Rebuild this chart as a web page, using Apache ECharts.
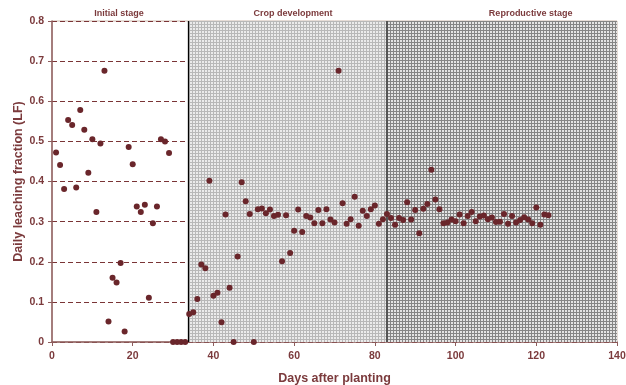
<!DOCTYPE html>
<html><head><meta charset="utf-8">
<script src="https://cdn.jsdelivr.net/npm/echarts@6/dist/echarts.min.js"></script>
<style>html,body{margin:0;padding:0;background:#fff}#c{width:626px;height:385px}</style>
</head><body><div id="c"></div>
<script>
var days = [1,2,3,4,5,6,7,8,9,10,11,12,13,14,15,16,17,18,19,20,21,22,23,24,25,26,27,28,29,30,
31,32,33,34,35,36,37,38,39,40,41,42,43,44,45,46,47,48,49,50,51,52,53,54,55,56,57,58,59,60,
61,62,63,64,65,66,67,68,69,70,71,72,73,74,75,76,77,78,79,80,81,82,83,84,85,86,87,88,89,90,
91,92,93,94,95,96,97,98,99,100,101,102,103,104,105,106,107,108,109,110,111,112,113,114,115,116,117,118,119,120,121,122,123];
var lf = [0.472,0.441,0.381,0.553,0.541,0.385,0.578,0.529,0.422,0.505,0.324,0.495,0.676,0.051,0.160,0.148,0.197,0.026,0.486,0.443,
0.338,0.324,0.342,0.110,0.296,0.338,0.505,0.500,0.471,0,0,0,0,0.070,0.074,0.107,0.193,0.184,0.402,0.115,
0.123,0.049,0.318,0.135,0,0.213,0.398,0.351,0.319,0,0.331,0.333,0.321,0.330,0.314,0.317,0.201,0.316,0.222,0.277,
0.330,0.274,0.314,0.310,0.296,0.329,0.296,0.331,0.305,0.298,0.676,0.346,0.295,0.306,0.362,0.290,0.327,0.314,0.331,0.340,
0.295,0.306,0.319,0.309,0.292,0.309,0.304,0.348,0.305,0.329,0.271,0.332,0.344,0.429,0.355,0.331,0.296,0.298,0.305,0.301,
0.318,0.296,0.314,0.324,0.301,0.313,0.315,0.306,0.310,0.299,0.300,0.319,0.295,0.314,0.298,0.304,0.311,0.305,0.296,0.335,
0.292,0.318,0.316];
var stageNames = ['Initial stage','Crop development','Reproductive stage'];
var stageBounds = [0, 33.7, 82.9, 140];
var stageLabelX = [16.6, 59.7, 118.6];
var xTicks = [0,20,40,60,80,100,120,140];
var yTicks = [0,0.1,0.2,0.3,0.4,0.5,0.6,0.7,0.8];

function makePattern(bg, line){
  var cv = document.createElement('canvas'); cv.width = 3; cv.height = 3;
  var g = cv.getContext('2d');
  g.fillStyle = bg; g.fillRect(0,0,3,3);
  g.fillStyle = line; g.fillRect(0,0,3,1); g.fillRect(0,0,1,3);
  return {image: cv, repeat: 'repeat'};
}
var patCrop = makePattern('#ebebeb', '#b8b8b8');
var patRep = makePattern('#e4e4e4', '#858585');

var txt = '#7b3a3c';
var axisCol = '#8e5e5e';
var chart = echarts.init(document.getElementById('c'), null, {renderer:'canvas'});
var option = {
  animation: false,
  backgroundColor: '#fff',
  grid: {left: 52, right: 9, top: 21, bottom: 43, outerBoundsMode: 'none', containLabel: false,
    show: true, borderColor: '#cdb9ad', borderWidth: 1},
  xAxis: {
    type: 'value', min: 0, max: 140, interval: 20,
    name: 'Days after planting', nameLocation: 'middle', nameGap: 30, nameMoveOverlap: false,
    nameTextStyle: {color: txt, fontWeight: 'bold', fontSize: 12.5, fontFamily: 'Liberation Sans'},
    axisLine: {show: true, lineStyle: {color: axisCol, width: 1.5}},
    axisTick: {show: true, length: 4, lineStyle: {color: axisCol}},
    axisLabel: {color: txt, fontWeight: 'bold', fontSize: 10.5, fontFamily: 'Liberation Sans', margin: 9,
      formatter: function(v){ return xTicks.indexOf(v) >= 0 ? String(v) : ''; }},
    splitLine: {show: false}
  },
  yAxis: {
    type: 'value', min: 0, max: 0.8, interval: 0.1,
    name: 'Daily leaching fraction (LF)', nameLocation: 'middle', nameGap: 27, nameMoveOverlap: false,
    nameTextStyle: {color: txt, fontWeight: 'bold', fontSize: 12.5, fontFamily: 'Liberation Sans'},
    axisLine: {show: true, lineStyle: {color: axisCol, width: 1.5}},
    axisTick: {show: true, length: 4, lineStyle: {color: axisCol}},
    axisLabel: {color: txt, fontWeight: 'bold', fontSize: 10.5, fontFamily: 'Liberation Sans', margin: 8,
      formatter: function(v){ var r = Math.round(v*10)/10; return r === 0 ? '0' : r.toFixed(1); }},
    splitLine: {show: true, lineStyle: {color: '#7a3436', type: [5,3], width: 1}}
  },
  series: [
    {
      type: 'scatter', z: -1, silent: true, data: [],
      markArea: {
        silent: true,
        data: [
          [{xAxis: stageBounds[1], itemStyle: {color: patCrop}}, {xAxis: stageBounds[2]}],
          [{xAxis: stageBounds[2], itemStyle: {color: patRep}}, {xAxis: stageBounds[3]}]
        ]
      },
      markLine: {
        silent: true, symbol: 'none', label: {show: false},
        data: [
          {xAxis: stageBounds[1], lineStyle: {color: '#000', width: 1.3, type: 'solid'}},
          {xAxis: stageBounds[2], lineStyle: {color: '#555', width: 2, type: 'solid'}}
        ]
      }
    },
    {
      type: 'scatter', z: 5, symbol: 'circle', symbolSize: 6,
      itemStyle: {color: '#6a262b', opacity: 1},
      data: days.map(function(d, i){ return [d, lf[i]]; })
    }
  ]
};
chart.setOption(option);
var gr = stageNames.map(function(n, i){
  var p = chart.convertToPixel({gridIndex: 0}, [stageLabelX[i], 0.8]);
  return {type: 'text', x: p[0], y: 14, style: {text: n, fill: txt, font: 'bold 9px "Liberation Sans"', align: 'center', verticalAlign: 'middle'}};
});
chart.setOption({graphic: gr});
</script></body></html>
